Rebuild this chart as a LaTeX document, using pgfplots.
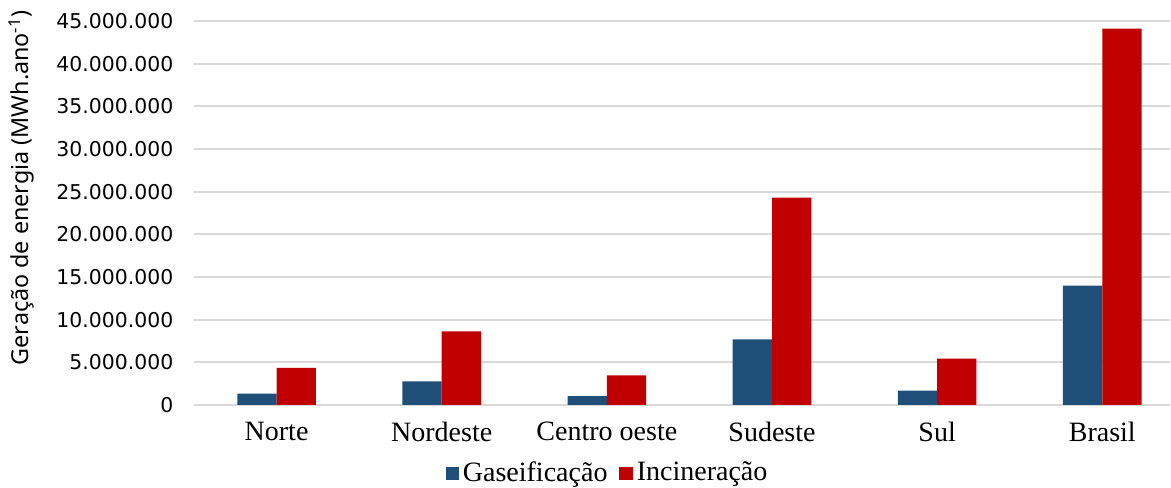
\documentclass[border=0pt]{standalone}
\usepackage{pgfplots}
\pgfplotsset{compat=1.18}
\usepackage{fontspec}
\setmainfont{Liberation Serif}
\newfontfamily\labelsans{Noto Sans}
\newfontfamily\ticksans{DejaVu Sans}

\definecolor{gasblue}{HTML}{1F4E79}
\definecolor{incred}{HTML}{C00000}
\definecolor{gridgray}{HTML}{D9D9D9}

% values in MWh/ano
\pgfplotstableread{
x gas inc
0 1340000 4340000
1 2780000 8640000
2 1050000 3480000
3 7700000 24300000
4 1690000 5440000
5 14000000 44100000
}\energia

\begin{document}
\begin{tikzpicture}
\useasboundingbox (-145.5pt,-62.25pt) rectangle (732.75pt,303.75pt);
\begin{axis}[
    at={(0,0)}, anchor=south west,
    scale only axis,
    width=732pt, height=288pt,
    ybar=0pt, bar width=0.238,
    xmin=-0.5, xmax=5.41,
    ymin=0, ymax=45000000,
    ytick distance=5000000,
    scaled y ticks=false,
    /pgf/number format/.cd, fixed, precision=0, 1000 sep={.}, assume math mode=true,
    /pgfplots/.cd,
    xtick={0,...,5},
    xticklabels={Norte,Nordeste,Centro oeste,Sudeste,Sul,Brasil},
    major tick length=0pt,
    axis line style={draw=none},
    ymajorgrids,
    grid style={gridgray, line width=1.3pt},
    yticklabel style={font=\ticksans\fontsize{15.3}{18}\selectfont, xshift=-12pt},
    xticklabel style={font=\fontsize{21}{24}\selectfont, yshift=-9pt},
    ylabel={Geração de energia (MWh.ano\textsuperscript{-1})},
    ylabel style={font=\labelsans\fontsize{17.5}{20}\selectfont,
        at={(axis description cs:-0.177,0.565)}, anchor=center},
    legend style={
        at={(0.424,-0.175)}, anchor=center,
        draw=none, fill=none,
        legend columns=-1,
        font=\fontsize{21}{24}\selectfont,
        /tikz/every odd column/.append style={column sep=1pt},
        /tikz/every even column/.append style={column sep=7pt},
    },
    legend image code/.code={\fill[#1] (0pt,-6pt) rectangle (10pt,4pt);},
]
\addplot[fill=gasblue, draw=none] table[x=x, y=gas] {\energia};
\addlegendentry{Gaseificação}
\addplot[fill=incred, draw=none] table[x=x, y=inc] {\energia};
\addlegendentry{Incineração}
\end{axis}
\end{tikzpicture}
\end{document}
